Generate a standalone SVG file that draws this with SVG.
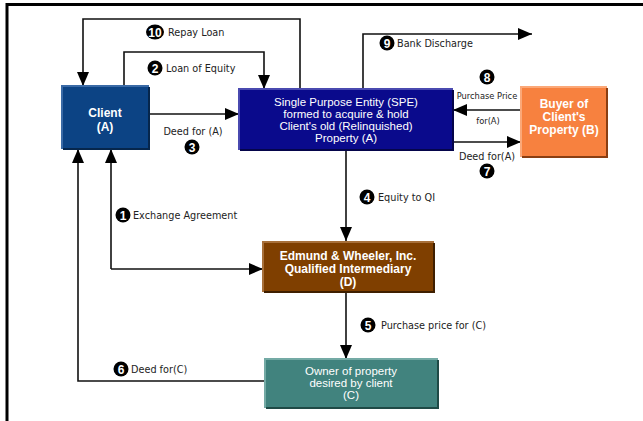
<svg xmlns="http://www.w3.org/2000/svg" width="643" height="421" viewBox="0 0 643 421">
<defs>
<marker id="ah" markerWidth="14" markerHeight="12" refX="14" refY="6" orient="auto" markerUnits="userSpaceOnUse">
<path d="M0,0 L14,6 L0,12 Z" fill="#000"/>
</marker>
<style>
.ln{fill:none;stroke:#111;stroke-width:1.6}
.lbl{font-family:"DejaVu Sans",sans-serif;font-size:9.7px;fill:#222}
.sm{font-family:"DejaVu Sans",sans-serif;font-size:8.3px;fill:#222}
.num{font-family:"Liberation Sans",sans-serif;font-size:12px;font-weight:bold;fill:#fff;text-anchor:middle}
.bt{font-family:"Liberation Sans",sans-serif;font-size:12px;font-weight:bold;fill:#fff;text-anchor:middle}
.nt{font-family:"Liberation Sans",sans-serif;font-size:11.5px;fill:#fff;text-anchor:middle}
.sh{fill:none;stroke-width:2}
</style>
</defs>
<rect x="0" y="0" width="643" height="421" fill="#fff"/>
<path d="M7,421 V4.5 H643" fill="none" stroke="#000" stroke-width="3"/>

<g id="connectors">
<path class="ln" d="M300,89 V19 H83 V86" marker-end="url(#ah)"/>
<path class="ln" d="M124,86 V52 H264 V89" marker-end="url(#ah)"/>
<path class="ln" d="M363,89 V34 H532" marker-end="url(#ah)"/>
<path class="ln" d="M149,114 H239" marker-end="url(#ah)"/>
<path class="ln" d="M521,110 H453" marker-end="url(#ah)"/>
<path class="ln" d="M453,142 H521" marker-end="url(#ah)"/>
<path class="ln" d="M346,150 V241" marker-end="url(#ah)"/>
<path class="ln" d="M346,292 V359" marker-end="url(#ah)"/>
<path class="ln" d="M111,269 H263" marker-end="url(#ah)"/>
<path class="ln" d="M111,269 V149" marker-end="url(#ah)"/>
<path class="ln" d="M265,381 H78 V149" marker-end="url(#ah)"/>

<ellipse cx="155" cy="32" rx="9" ry="7.5" fill="#000"/><text class="num" x="155" y="36.5" font-size="11px">10</text>
<text class="lbl" x="168" y="36">Repay Loan</text>
<circle cx="155" cy="68" r="7.5" fill="#000"/><text class="num" x="155" y="72.5">2</text>
<text class="lbl" x="166" y="72">Loan of Equity</text>
<circle cx="387" cy="43" r="7.5" fill="#000"/><text class="num" x="387" y="47.5">9</text>
<text class="lbl" x="397" y="47">Bank Discharge</text>
<circle cx="487" cy="77" r="7.5" fill="#000"/><text class="num" x="487" y="81.5">8</text>
<text class="sm" x="487" y="99" text-anchor="middle">Purchase Price</text>
<text class="sm" x="488" y="124" text-anchor="middle">for(A)</text>
<text class="lbl" x="487" y="160" text-anchor="middle">Deed for(A)</text>
<circle cx="487" cy="171" r="7.5" fill="#000"/><text class="num" x="487" y="175.5">7</text>
<text class="lbl" x="193" y="135" text-anchor="middle">Deed for (A)</text>
<circle cx="192" cy="147" r="7.5" fill="#000"/><text class="num" x="192" y="151.5">3</text>
<circle cx="367" cy="197" r="7.5" fill="#000"/><text class="num" x="367" y="201.5">4</text>
<text class="lbl" x="378" y="201">Equity to QI</text>
<circle cx="123" cy="215" r="7.5" fill="#000"/><text class="num" x="123" y="219.5">1</text>
<text class="lbl" x="133" y="219">Exchange Agreement</text>
<circle cx="368" cy="325" r="7.5" fill="#000"/><text class="num" x="368" y="329.5">5</text>
<text class="lbl" x="381" y="329">Purchase price for (C)</text>
<circle cx="121" cy="369" r="7.5" fill="#000"/><text class="num" x="121" y="373.5">6</text>
<text class="lbl" x="131" y="373">Deed for(C)</text>
</g>

<g id="client">
<rect x="62" y="86" width="87" height="63" fill="#0c4384"/>
<path class="sh" d="M149,87 V149 H63" stroke="#06264c"/>
<path class="sh" d="M62,149 V86 H149" stroke="#3a6aa6" stroke-width="1.5"/>
<text class="bt" x="105" y="117" font-size="12.5px">Client</text>
<text class="bt" x="105" y="131" font-size="12.5px">(A)</text>
</g>

<g id="spe">
<rect x="239" y="89" width="214" height="61" fill="#0a0a8c"/>
<path class="sh" d="M453,90 V150 H240" stroke="#05054a"/>
<path class="sh" d="M239,150 V89 H453" stroke="#4a4ab0" stroke-width="1.5"/>
<text class="nt" x="346" y="106">Single Purpose Entity (SPE)</text>
<text class="nt" x="346" y="118">formed to acquire &amp; hold</text>
<text class="nt" x="346" y="130">Client's old (Relinquished)</text>
<text class="nt" x="346" y="142">Property (A)</text>
</g>

<g id="buyer">
<rect x="521" y="87" width="86" height="70" fill="#f7813f"/>
<path class="sh" d="M607,88 V157 H522" stroke="#8a3e12"/>
<path class="sh" d="M521,157 V87 H607" stroke="#fba878" stroke-width="1.5"/>
<text class="bt" x="564" y="108">Buyer of</text>
<text class="bt" x="564" y="121">Client's</text>
<text class="bt" x="564" y="134">Property (B)</text>
</g>

<g id="qi">
<rect x="263" y="242" width="171" height="50" fill="#7f3f00"/>
<path class="sh" d="M434,243 V292 H264" stroke="#3f1f00"/>
<path class="sh" d="M263,292 V242 H434" stroke="#a8703a" stroke-width="1.5"/>
<text class="bt" x="348" y="260">Edmund &amp; Wheeler, Inc.</text>
<text class="bt" x="348" y="273">Qualified Intermediary</text>
<text class="bt" x="348" y="286">(D)</text>
</g>

<g id="owner">
<rect x="265" y="359" width="173" height="49" fill="#41837e"/>
<path class="sh" d="M438,360 V408 H266" stroke="#1f4a46"/>
<path class="sh" d="M265,408 V359 H438" stroke="#74aaa5" stroke-width="1.5"/>
<text class="nt" x="351" y="375">Owner of property</text>
<text class="nt" x="351" y="387">desired by client</text>
<text class="nt" x="351" y="399">(C)</text>
</g>
</svg>
